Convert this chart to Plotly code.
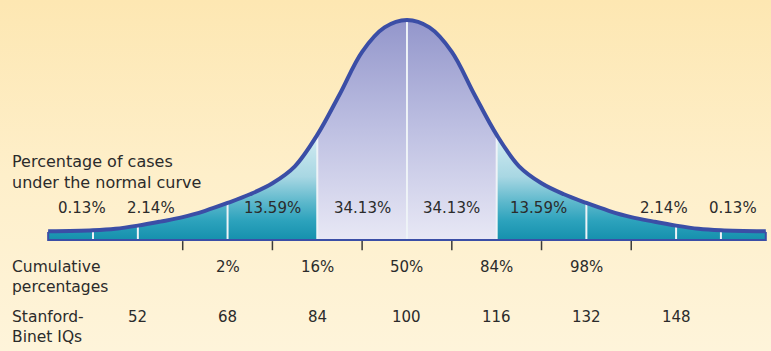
import plotly.graph_objects as go

# ---------------- data ----------------
# IQ scale points along the curve (mean 100, SD 16)
iq_pts = [36, 44, 48, 52, 56, 60, 64, 68, 72, 76, 80, 84, 88, 92, 96, 100,
          104, 108, 112, 116, 120, 124, 128, 132, 136, 140, 144, 148, 152, 156, 164]
# curve height as % of the peak height
curve_height = [0.3, 0.8, 1.5, 3.0, 4.9, 7.0, 10.0, 13.7, 17.8, 23.0, 31.0, 45.8, 65.0, 85.0, 96.5, 100.0,
                96.5, 85.0, 65.0, 45.8, 31.0, 23.0, 17.8, 13.7, 10.0, 7.0, 4.9, 3.0, 1.5, 0.8, 0.3]

segment_bounds = [44, 52, 68, 84, 100, 116, 132, 148, 156]
segment_pcts = ["0.13%", "2.14%", "13.59%", "34.13%", "34.13%", "13.59%", "2.14%", "0.13%"]

cum_iq = [68, 84, 100, 116, 132]
cum_labels = ["2%", "16%", "50%", "84%", "98%"]

iq_labels_vals = [52, 68, 84, 100, 116, 132, 148]
half_sd_ticks = [60, 76, 92, 108, 124, 140]

# ---------------- layout constants ----------------
X_RANGE = [27.41, 164.93]
Y_RANGE = [-56.13, 109.43]
BAND_BOTTOM = -3.8
FONT = "DejaVu Sans"
TXT = "#2b2b2b"
CURVE_COL = "#3b4ea6"
pct_label_x = [42.1, 54.4, 76.0, 92.0, 108.0, 123.4, 145.9, 158.2]

height_at = dict(zip(iq_pts, curve_height))

fig = go.Figure()

# background gradient
fig.add_trace(go.Scatter(
    x=[X_RANGE[0], X_RANGE[1], X_RANGE[1], X_RANGE[0], X_RANGE[0]],
    y=[Y_RANGE[0], Y_RANGE[0], Y_RANGE[1], Y_RANGE[1], Y_RANGE[0]],
    mode="lines", line=dict(width=0), fill="toself",
    fillgradient=dict(type="vertical", start=Y_RANGE[0], stop=Y_RANGE[1],
                      colorscale=[[0, "#fef4da"], [0.5, "#feefca"], [1, "#fde7b2"]]),
    hoverinfo="skip", showlegend=False))

teal_scale = [[0, "#1590ad"], [0.18, "#2ca2bc"], [0.36, "#5db8cc"], [0.6, "#a8d7e3"], [1, "#d4ecf2"]]
lav_scale = [[0, "#e8e8f5"], [0.5, "#bec0e2"], [1, "#9396cb"]]
regions = [(36, 84, teal_scale, 46), (84, 116, lav_scale, 100), (116, 164, teal_scale, 46)]

for lo, hi, cs, stop in regions:
    xs = [x for x in iq_pts if lo <= x <= hi]
    ys = [height_at[x] for x in xs]
    fig.add_trace(go.Scatter(x=[lo, hi], y=[BAND_BOTTOM, BAND_BOTTOM], mode="lines",
                             line=dict(width=0), hoverinfo="skip", showlegend=False))
    fig.add_trace(go.Scatter(x=xs, y=ys, mode="lines", line=dict(width=0, shape="spline"),
                             fill="tonexty",
                             fillgradient=dict(type="vertical", colorscale=cs,
                                               start=BAND_BOTTOM, stop=stop),
                             hoverinfo="skip", showlegend=False))

# white dividers
for b in segment_bounds:
    fig.add_trace(go.Scatter(x=[b, b], y=[BAND_BOTTOM, height_at[b]], mode="lines",
                             line=dict(color="#eef3f7", width=2),
                             hoverinfo="skip", showlegend=False))

# band outline
fig.add_trace(go.Scatter(x=[iq_pts[0], iq_pts[0], iq_pts[-1], iq_pts[-1]],
                         y=[0, BAND_BOTTOM, BAND_BOTTOM, 0], mode="lines",
                         line=dict(color=CURVE_COL, width=2),
                         hoverinfo="skip", showlegend=False))

# curve
fig.add_trace(go.Scatter(x=iq_pts, y=curve_height, mode="lines",
                         line=dict(color=CURVE_COL, width=4, shape="spline"),
                         hoverinfo="skip", showlegend=False))

# half-SD tick marks under the band
for t in half_sd_ticks:
    fig.add_trace(go.Scatter(x=[t, t], y=[-4.3, -8.6], mode="lines",
                             line=dict(color="#3a3a3a", width=1.5),
                             hoverinfo="skip", showlegend=False))

ann = []
for x, s in zip(pct_label_x, segment_pcts):
    ann.append(dict(x=x, y=11.1, text=s, showarrow=False, xanchor="center", yanchor="middle",
                    font=dict(family=FONT, size=15, color=TXT)))
for x, s in zip(cum_iq, cum_labels):
    ann.append(dict(x=x, y=-16.5, text=s, showarrow=False, xanchor="center", yanchor="middle",
                    font=dict(family=FONT, size=15, color=TXT)))
for v in iq_labels_vals:
    ann.append(dict(x=v, y=-40.3, text=str(v), showarrow=False, xanchor="center", yanchor="middle",
                    font=dict(family=FONT, size=15, color=TXT)))
for txt, yc, fs in [("Percentage of cases<br>under the normal curve", 28.3, 16),
                    ("Cumulative<br>percentages", -21.0, 15.5),
                    ("Stanford-<br>Binet IQs", -45.0, 15.5)]:
    ann.append(dict(x=10 / 771, xref="paper", y=yc, yref="y", text=txt, showarrow=False,
                    xanchor="left", yanchor="middle", align="left",
                    font=dict(family=FONT, size=fs, color=TXT)))

fig.update_layout(
    width=771, height=351, margin=dict(l=0, r=0, t=0, b=0),
    paper_bgcolor="#feefca", plot_bgcolor="#feefca",
    xaxis=dict(range=X_RANGE, visible=False, fixedrange=True),
    yaxis=dict(range=Y_RANGE, visible=False, fixedrange=True),
    annotations=ann, showlegend=False,
)

fig.write_html("out.html", config={"displayModeBar": False, "staticPlot": True})

# remove the browser's default page margin so the figure fills the window
with open("out.html", "r", encoding="utf-8") as f:
    html = f.read()
html = html.replace("<head>", "<head><style>html,body{margin:0;padding:0;overflow:hidden;}</style>", 1)
with open("out.html", "w", encoding="utf-8") as f:
    f.write(html)
